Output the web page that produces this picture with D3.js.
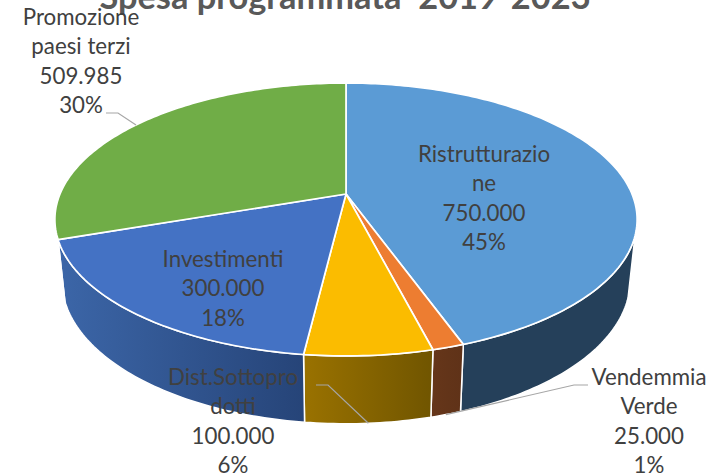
<!DOCTYPE html>
<html><head><meta charset="utf-8">
<script src="https://cdnjs.cloudflare.com/ajax/libs/d3/7.8.5/d3.min.js"></script>
<style>html,body{margin:0;padding:0;background:#fff;overflow:hidden}svg{display:block}</style>
</head><body><svg id="c" width="722" height="475"></svg>
<script>
const titleText = "Spesa programmata  2019-2023";
const categories = ["Ristrutturazione","Vendemmia Verde","Dist.Sottoprodotti","Investimenti","Promozione paesi terzi"];
const values = [750000,25000,100000,300000,509985];
const labelLines = [["Ristrutturazio","ne"],["Vendemmia","Verde"],["Dist.Sottopro","dotti"],["Investimenti"],["Promozione","paesi terzi"]];
const topColors = ["#5B9BD5","#ED7D31","#FBBC00","#4472C4","#70AD47"];
const sideFrom = ["#25405A","#66361A","#9A7200","#3C66A8","#4A7A2E"];
const sideTo = ["#25405A","#5F3218","#705500","#264478","#4A7A2E"];

const labelX = [484,649,233,223,81];
const labelBase = [162,385,385,267,25];
const lineStep = 29.3;
// Leader elbows: [text-side x, elbow x, elbow y, rim layer (0 top, 1 base)]; null = label sits inside
const leaders = [null,[588,574,385,1],[316,328,385,1],null,[106,118,113,0]];

const svg = d3.select("#c");
const pie = d3.pie().sort(null).value(d=>d);
const arcs = pie(values);
const deg = Math.PI/180;
const cx=346, cy=194, R=286, S=131.7, k=0.1868;
const rimMin=107.5*deg, rimMax=252.5*deg;
function topPt(a){const u=Math.sin(a),v=-Math.cos(a),d=1-k*v;return [cx+R*u/d,cy+S*v/d];}
function basePt(a){const p=topPt(a);return [cx+(p[0]-cx)*0.976,p[1]*1.05+50];}
function samples(a0,a1){const n=Math.max(2,Math.ceil((a1-a0)/deg));return d3.range(n+1).map(i=>a0+(a1-a0)*i/n);}
const line=d3.line();
const defs=svg.append("defs");

// side walls
arcs.forEach((d,i)=>{
  const a0=Math.max(d.startAngle,rimMin),a1=Math.min(d.endAngle,rimMax);
  if(a1<=a0)return;
  const as=samples(a0,a1);
  const t=as.map(topPt),b=as.map(basePt).reverse();
  const xs=t.concat(b).map(p=>p[0]);
  const g=defs.append("linearGradient").attr("id","s"+i).attr("gradientUnits","userSpaceOnUse")
    .attr("x1",d3.min(xs)).attr("x2",d3.max(xs)).attr("y1",0).attr("y2",0);
  g.append("stop").attr("offset",0).attr("stop-color",sideFrom[i]);
  g.append("stop").attr("offset",1).attr("stop-color",sideTo[i]);
  svg.append("path").attr("d",line(t.concat(b))+"Z").attr("fill",`url(#s${i})`)
    .attr("stroke","#fff").attr("stroke-width",1.5).attr("stroke-linejoin","round");
});
// top face
arcs.forEach((d,i)=>{
  const pts=[[cx,cy]].concat(samples(d.startAngle,d.endAngle).map(topPt));
  svg.append("path").attr("d",line(pts)+"Z").attr("fill",topColors[i])
    .attr("stroke","#fff").attr("stroke-width",1.7).attr("stroke-linejoin","round");
});
// title
svg.append("text").attr("x",345).attr("y",9).attr("text-anchor","middle")
  .attr("font-family","Lato, 'Open Sans', sans-serif").attr("font-weight",700).attr("font-size",34.4)
  .attr("fill","#595959").style("white-space","pre").text(titleText);
// leaders
arcs.forEach((d,i)=>{
  const l=leaders[i]; if(!l)return;
  const mid=(d.startAngle+d.endAngle)/2;
  const end=l[3]?basePt(mid):topPt(mid);
  svg.append("path").attr("d",line([[l[0],l[2]],[l[1],l[2]],end])).attr("fill","none")
    .attr("stroke","#A6A6A6").attr("stroke-width",1.2);
});
// labels
const fmt=d3.formatLocale({decimal:",",thousands:".",grouping:[3],currency:["€",""]}).format(",d");
const total=d3.sum(values);
arcs.forEach((d,i)=>{
  const lines=labelLines[i].concat([fmt(values[i]),d3.format(".0%")(values[i]/total)]);
  const t=svg.append("text").attr("text-anchor","middle").attr("font-family","Lato, 'Open Sans', sans-serif")
    .attr("font-size",22.3).attr("fill","#404040");
  lines.forEach((s,j)=>t.append("tspan").attr("x",labelX[i]).attr("y",labelBase[i]+j*lineStep).text(s));
});
</script></body></html>
